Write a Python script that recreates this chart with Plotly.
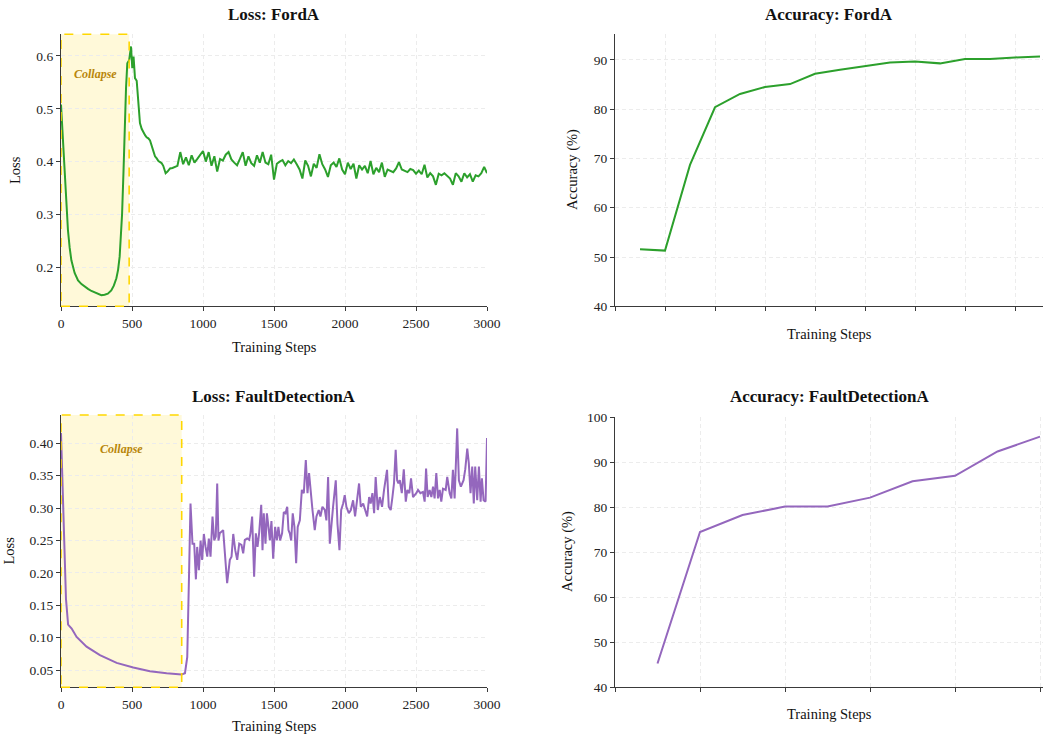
import plotly.graph_objects as go

W, H = 1043, 734
FONT = "Liberation Serif, Times New Roman, Times, serif"
GREEN = "#2ca02c"
PURPLE = "#9467bd"

# ---------------- data ----------------
forda_steps_early = [
    0, 8, 16, 26, 37, 49, 61, 73, 96, 120,
    144, 167, 190, 214, 237, 260, 284, 307, 330, 354,
    372, 390, 402, 413, 422, 430, 440, 448, 458, 467,
    480, 493, 502, 511, 521, 533, 545, 556, 568, 580,
    592, 603, 615, 627, 638, 650, 662, 674, 686, 698,
    709, 720, 737, 750, 768, 785, 803]
forda_loss_early = [
    0.508, 0.470, 0.420, 0.365, 0.315, 0.270, 0.237, 0.213, 0.189, 0.175,
    0.168, 0.163, 0.159, 0.155, 0.152, 0.149, 0.147, 0.148, 0.150, 0.156,
    0.165, 0.179, 0.195, 0.220, 0.255, 0.300, 0.380, 0.460, 0.540, 0.586,
    0.592, 0.618, 0.577, 0.599, 0.558, 0.553, 0.510, 0.473, 0.462, 0.455,
    0.450, 0.446, 0.444, 0.440, 0.430, 0.418, 0.410, 0.406, 0.401, 0.399,
    0.397, 0.392, 0.378, 0.381, 0.387, 0.388, 0.390]
forda_steps_late = list(range(820, 3001, 20))
forda_loss_late = [
    0.392, 0.418, 0.395, 0.408, 0.393, 0.412, 0.398, 0.405, 0.412, 0.420,
    0.400, 0.418, 0.392, 0.410, 0.381, 0.405, 0.402, 0.413, 0.418, 0.404,
    0.398, 0.393, 0.405, 0.418, 0.392, 0.410, 0.397, 0.392, 0.412, 0.398,
    0.418, 0.398, 0.395, 0.413, 0.366, 0.396, 0.400, 0.403, 0.393, 0.401,
    0.397, 0.404, 0.395, 0.385, 0.368, 0.402, 0.392, 0.372, 0.396, 0.388,
    0.414, 0.395, 0.385, 0.371, 0.393, 0.398, 0.390, 0.406, 0.385, 0.376,
    0.398, 0.386, 0.396, 0.368, 0.393, 0.385, 0.392, 0.378, 0.401, 0.376,
    0.388, 0.380, 0.398, 0.371, 0.385, 0.382, 0.380, 0.387, 0.399, 0.385,
    0.383, 0.380, 0.386, 0.384, 0.377, 0.383, 0.376, 0.394, 0.370, 0.378,
    0.372, 0.356, 0.377, 0.374, 0.378, 0.372, 0.368, 0.356, 0.378, 0.372,
    0.362, 0.378, 0.370, 0.376, 0.362, 0.374, 0.372, 0.378, 0.390, 0.378]
forda_steps = forda_steps_early + forda_steps_late
forda_loss = forda_loss_early + forda_loss_late

fault_steps = [
    0, 15, 25, 35, 50, 75, 110, 180, 274, 392,
    509, 626, 744, 849, 873, 889, 901, 912, 926, 938,
    950, 959, 971, 983, 994, 1006, 1018, 1030, 1041, 1053,
    1067, 1079, 1090, 1100, 1109, 1118, 1142, 1156, 1170, 1189,
    1201, 1213, 1227, 1241, 1255, 1271, 1283, 1295, 1311, 1325,
    1334, 1346, 1360, 1372, 1384, 1396, 1410, 1419, 1428, 1440,
    1450, 1461, 1471, 1482, 1494, 1508, 1520, 1531, 1543, 1557,
    1569, 1581, 1593, 1602, 1611, 1621, 1632, 1644, 1656, 1667,
    1682, 1696, 1710, 1724, 1736, 1747, 1757, 1771, 1787, 1799,
    1815, 1827, 1841, 1858, 1869, 1881, 1893, 1907, 1916, 1935,
    1947, 1961, 1973, 1987, 1998, 2010, 2027, 2041, 2057, 2071,
    2085, 2099, 2111, 2128, 2142, 2156, 2170, 2181, 2193, 2205,
    2216, 2231, 2245, 2261, 2275, 2285, 2296, 2308, 2322, 2334,
    2345, 2357, 2367, 2376, 2386, 2400, 2414, 2428, 2439, 2453,
    2465, 2479, 2493, 2502, 2514, 2531, 2549, 2561, 2571, 2582,
    2596, 2608, 2620, 2631, 2643, 2655, 2667, 2678, 2690, 2709,
    2720, 2737, 2749, 2760, 2772, 2790, 2802, 2816, 2835, 2847,
    2861, 2872, 2884, 2896, 2907, 2917, 2931, 2943, 2955, 2964,
    2976, 2990, 3000]
fault_loss = [
    0.416, 0.290, 0.205, 0.160, 0.120, 0.114, 0.101, 0.086, 0.073, 0.061,
    0.054, 0.048, 0.045, 0.043, 0.045, 0.070, 0.190, 0.307, 0.245, 0.245,
    0.190, 0.240, 0.204, 0.250, 0.220, 0.260, 0.240, 0.225, 0.253, 0.225,
    0.287, 0.250, 0.256, 0.338, 0.250, 0.261, 0.266, 0.230, 0.184, 0.220,
    0.225, 0.260, 0.235, 0.220, 0.245, 0.243, 0.230, 0.251, 0.253, 0.251,
    0.261, 0.287, 0.194, 0.261, 0.240, 0.263, 0.305, 0.235, 0.292, 0.245,
    0.292, 0.271, 0.250, 0.280, 0.222, 0.271, 0.250, 0.271, 0.250, 0.261,
    0.294, 0.292, 0.302, 0.266, 0.261, 0.250, 0.292, 0.271, 0.215, 0.271,
    0.281, 0.328, 0.323, 0.374, 0.323, 0.354, 0.328, 0.297, 0.266, 0.287,
    0.297, 0.287, 0.302, 0.297, 0.281, 0.348, 0.245, 0.287, 0.302, 0.343,
    0.276, 0.235, 0.297, 0.307, 0.320, 0.302, 0.292, 0.297, 0.312, 0.287,
    0.317, 0.338, 0.302, 0.307, 0.297, 0.287, 0.317, 0.307, 0.323, 0.292,
    0.348, 0.297, 0.317, 0.302, 0.328, 0.343, 0.359, 0.302, 0.297, 0.317,
    0.338, 0.390, 0.343, 0.338, 0.343, 0.323, 0.360, 0.310, 0.328, 0.323,
    0.346, 0.317, 0.320, 0.323, 0.328, 0.323, 0.325, 0.310, 0.361, 0.317,
    0.328, 0.317, 0.333, 0.315, 0.354, 0.315, 0.328, 0.310, 0.330, 0.328,
    0.348, 0.323, 0.315, 0.359, 0.315, 0.423, 0.343, 0.333, 0.343, 0.360,
    0.392, 0.369, 0.323, 0.364, 0.307, 0.364, 0.312, 0.364, 0.310, 0.346,
    0.312, 0.310, 0.408]

forda_acc = [51.6, 51.3, 68.7, 80.4, 83.1, 84.5, 85.1, 87.2, 88.0, 88.8,
             89.5, 89.7, 89.3, 90.2, 90.2, 90.5, 90.7]
forda_eval = list(range(1, len(forda_acc) + 1))
fault_acc = [45.3, 74.5, 78.3, 80.15, 80.2, 82.15, 85.8, 87.0, 92.4, 95.7]
fault_eval = list(range(1, len(fault_acc) + 1))

forda_collapse_end = 480
fault_collapse_end = 850

loss_xticks = [0, 500, 1000, 1500, 2000, 2500, 3000]

# ---------------- layout helpers ----------------
def fx(p):
    return p / W

def fy(p):
    return 1 - p / H

TL_X = [fx(61), fx(487)]
TR_X = [fx(615), 1.0]
TOP_Y = [fy(306.3), fy(34.3)]
BL_Y = [fy(687.3), fy(415)]
BR_Y = [fy(687.3), fy(417.3)]

AXCOL = "#3a3a3a"
GRIDCOL = "#ececec"

def axis_common(**kw):
    d = dict(showline=True, linecolor=AXCOL, linewidth=1.2, mirror=False,
             ticks="outside", ticklen=4, tickwidth=1, tickcolor=AXCOL,
             showgrid=True, gridcolor=GRIDCOL, griddash="4px,3px", gridwidth=0.8,
             zeroline=False, automargin=False,
             tickfont=dict(family=FONT, size=13.5, color="#222"))
    d.update(kw)
    return d

fig = go.Figure()
fig.add_trace(go.Scatter(x=forda_steps, y=forda_loss, xaxis="x", yaxis="y",
                         mode="lines", line=dict(color=GREEN, width=2)))
fig.add_trace(go.Scatter(x=forda_eval, y=forda_acc, xaxis="x2", yaxis="y2",
                         mode="lines", line=dict(color=GREEN, width=2)))
fig.add_trace(go.Scatter(x=fault_steps, y=fault_loss, xaxis="x3", yaxis="y3",
                         mode="lines", line=dict(color=PURPLE, width=2)))
fig.add_trace(go.Scatter(x=fault_eval, y=fault_acc, xaxis="x4", yaxis="y4",
                         mode="lines", line=dict(color=PURPLE, width=2)))

fig.update_layout(
    width=W, height=H,
    margin=dict(l=0, r=0, t=0, b=0, autoexpand=False),
    paper_bgcolor="white", plot_bgcolor="white",
    showlegend=False,
    font=dict(family=FONT, color="#111"),
    xaxis=axis_common(domain=TL_X, anchor="y", range=[0, 3000],
                      tickvals=loss_xticks),
    yaxis=axis_common(domain=TOP_Y, anchor="x", range=[0.126, 0.641],
                      tick0=0, dtick=0.1, tickformat=".1f"),
    xaxis2=axis_common(domain=TR_X, anchor="y2", range=[0, 17.12],
                       tick0=0, dtick=2, showticklabels=False),
    yaxis2=axis_common(domain=TOP_Y, anchor="x2", range=[40, 95.2],
                       tick0=40, dtick=10),
    xaxis3=axis_common(domain=TL_X, anchor="y3", range=[0, 3000],
                       tickvals=loss_xticks),
    yaxis3=axis_common(domain=BL_Y, anchor="x3", range=[0.0233, 0.4437],
                       tick0=0, dtick=0.05, tickformat=".2f"),
    xaxis4=axis_common(domain=TR_X, anchor="y4", range=[0, 10.07],
                       tick0=0, dtick=2, showticklabels=False),
    yaxis4=axis_common(domain=BR_Y, anchor="x4", range=[40, 100],
                       tick0=40, dtick=10),
)

# collapse regions
for xr, yr, end in [("x", "y", forda_collapse_end), ("x3", "y3", fault_collapse_end)]:
    fig.add_shape(type="rect", xref=xr, yref=yr + " domain", x0=0, x1=end, y0=0, y1=1,
                  fillcolor="rgba(255,215,0,0.15)", line=dict(width=0), layer="below")
    fig.add_shape(type="rect", xref=xr, yref=yr + " domain", x0=0, x1=end, y0=0, y1=1,
                  fillcolor="rgba(0,0,0,0)", line=dict(color="#FFD700", width=1.6, dash="dash"),
                  layer="above")

annots = []
def txt(text, x, y, size, rot=0, **kw):
    d = dict(text=text, x=x, y=y, xref="paper", yref="paper", showarrow=False,
             xanchor="center", yanchor="middle", textangle=rot,
             font=dict(family=FONT, size=size, color="#111"))
    d.update(kw)
    annots.append(d)

# titles
txt("<b>Loss: FordA</b>", fx(274), fy(14.5), 17)
txt("<b>Accuracy: FordA</b>", fx(829), fy(14.5), 17)
txt("<b>Loss: FaultDetectionA</b>", fx(274), fy(396), 17)
txt("<b>Accuracy: FaultDetectionA</b>", fx(829), fy(396), 17)
# x axis titles
txt("Training Steps", fx(274), fy(347), 14.5)
txt("Training Steps", fx(829), fy(334), 14.5)
txt("Training Steps", fx(274), fy(726), 14.5)
txt("Training Steps", fx(829), fy(714), 14.5)
# y axis titles
txt("Loss", fx(15), fy(170), 14.5, rot=-90)
txt("Accuracy (%)", fx(573), fy(170), 14.5, rot=-90)
txt("Loss", fx(8.5), fy(551), 14.5, rot=-90)
txt("Accuracy (%)", fx(567), fy(552), 14.5, rot=-90)

# collapse labels
annots.append(dict(text="<b><i>Collapse</i></b>", x=forda_collapse_end / 2, y=0.887,
                   xref="x", yref="y domain", showarrow=False,
                   font=dict(family=FONT, size=12, color="#B8860B")))
annots.append(dict(text="<b><i>Collapse</i></b>", x=fault_collapse_end / 2, y=0.908,
                   xref="x3", yref="y3 domain", showarrow=False,
                   font=dict(family=FONT, size=12, color="#B8860B")))

fig.update_layout(annotations=annots)

fig.write_html("out.html",
               config={"displayModeBar": False},
               post_script="document.body.style.margin='0';document.body.style.overflow='hidden';")
